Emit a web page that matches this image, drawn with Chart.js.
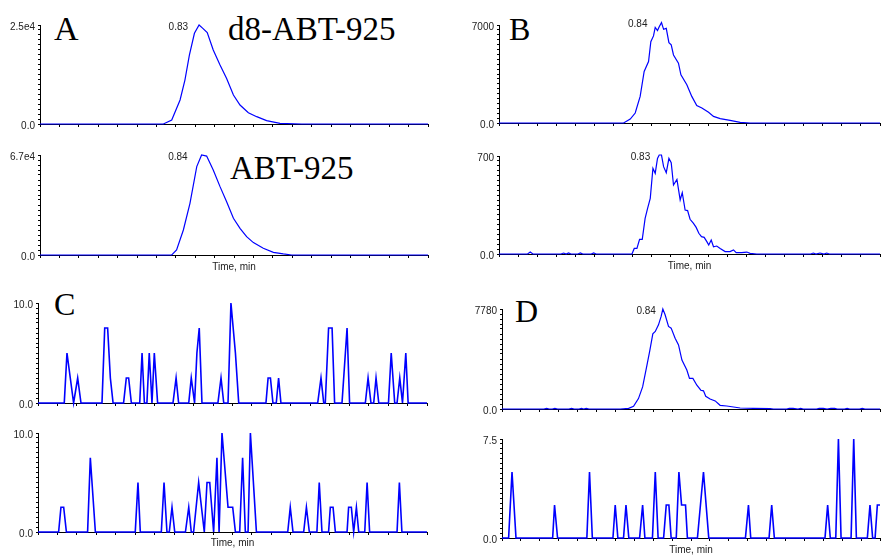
<!DOCTYPE html>
<html>
<head>
<meta charset="utf-8">
<script src="https://cdn.jsdelivr.net/npm/chart.js@4.4.1/dist/chart.umd.min.js"></script>
<style>
  body { margin: 0; background: #fff; overflow: hidden; }
  #wrap { position: relative; width: 881px; height: 556px; overflow: hidden; }
  #wrap canvas { position: absolute; }
  .big { position: absolute; font-family: "Liberation Serif", "Times New Roman", serif; line-height: 1; color: #000; white-space: nowrap; }
</style>
</head>
<body>
<div id="wrap">
  <div class="big" style="left:54px; top:12px; font-size:34px;">A</div>
  <div class="big" style="left:228px; top:13px; font-size:33px;">d8-ABT-925</div>
  <div class="big" style="left:230px; top:152px; font-size:33px;">ABT-925</div>
  <div class="big" style="left:509px; top:13px; font-size:32px;">B</div>
  <div class="big" style="left:54px; top:288px; font-size:32px;">C</div>
  <div class="big" style="left:515px; top:295px; font-size:32px;">D</div>
</div>
<script>
// time axis (min) is the same for every trace
var timeMin = 0;
var timeMax = 2.0;

// A, top trace: d8-ABT-925
var timesA1 = [0, 0.636, 0.679, 0.722, 0.747, 0.770, 0.796, 0.820, 0.838, 0.862, 0.893, 0.928, 0.962, 0.997, 1.031, 1.074, 1.117, 1.168, 1.237, 1.349, 2.0];
var valuesA1 = [0, 0, 1010, 6060, 11100, 17400, 22900, 25000, 24200, 23100, 18700, 14900, 11500, 7300, 4800, 2860, 1850, 840, 170, 0, 0];

// A, bottom trace: ABT-925
var timesA2 = [0, 0.679, 0.704, 0.739, 0.773, 0.808, 0.833, 0.859, 0.893, 0.928, 0.962, 0.997, 1.031, 1.065, 1.100, 1.151, 1.203, 1.254, 1.297, 2.0];
var valuesA2 = [0, 0, 3350, 16750, 34600, 59200, 67000, 66300, 57000, 45800, 35700, 24600, 17900, 12300, 8300, 4500, 1800, 700, 0, 0];

// B
var timesB1 = [0, 0.654, 0.689, 0.715, 0.741, 0.762, 0.785, 0.797, 0.811, 0.820, 0.832, 0.841, 0.853, 0.864, 0.878, 0.892, 0.904, 0.916, 0.942, 0.955, 0.986, 1.012, 1.038, 1.065, 1.100, 1.126, 1.161, 1.213, 1.266, 1.319, 2.0];
var valuesB1 = [0, 0, 285, 712, 1900, 3680, 4390, 5810, 6220, 6830, 6600, 6880, 7170, 6690, 6760, 5740, 5580, 4860, 4270, 3440, 2730, 1900, 1240, 1070, 760, 475, 310, 190, 50, 0, 0];

var timesB2 = [0, 0.150, 0.164, 0.178, 0.325, 0.339, 0.353, 0.365, 0.378, 0.414, 0.427, 0.440, 0.484, 0.497, 0.510,
  0.698, 0.710, 0.724, 0.738, 0.752, 0.767, 0.780, 0.794, 0.808, 0.820, 0.832, 0.841, 0.853, 0.864, 0.878, 0.892, 0.904,
  0.916, 0.934, 0.951, 0.962, 0.977, 0.990, 1.003, 1.021, 1.035, 1.049, 1.063, 1.077, 1.091, 1.101, 1.114, 1.126, 1.143,
  1.161, 1.187, 1.213, 1.231, 1.245, 1.274, 1.301, 1.318, 1.353, 1.636, 1.650, 1.664, 1.685, 1.706, 1.720, 1.734, 2.0];
var valuesB2 = [0, 0, 14, 0, 0, 7, 0, 7, 0, 0, 7, 0, 0, 7, 0,
  0, 40, 40, 105, 105, 255, 326, 398, 612, 576, 683, 707, 707, 624, 581, 683, 652,
  493, 533, 386, 438, 314, 310, 248, 219, 190, 148, 124, 119, 88, 64, 100, 52, 57,
  40, 17, 17, 29, 10, 10, 14, 5, 0, 0, 7, 0, 7, 0, 7, 0, 0];

// C
var timesC1 = [0, 0.135, 0.149, 0.166, 0.183, 0.204, 0.221, 0.329, 0.343, 0.358, 0.372, 0.386, 0.440, 0.454, 0.466, 0.480,
  0.523, 0.535, 0.547, 0.560, 0.572, 0.586, 0.598, 0.615, 0.694, 0.710, 0.723, 0.775, 0.788, 0.805, 0.817, 0.829, 0.843,
  0.925, 0.941, 0.955, 0.977, 0.992, 1.015, 1.032, 1.172, 1.183, 1.195, 1.208, 1.225, 1.237, 1.249,
  1.438, 1.455, 1.469, 1.477, 1.494, 1.512, 1.525, 1.563, 1.589, 1.602, 1.683, 1.697, 1.712, 1.726, 1.738, 1.752,
  1.802, 1.816, 1.834, 1.846, 1.860, 1.874, 1.891, 1.903, 2.0];
var valuesC1 = [0, 0, 5, 2.5, 0, 2.5, 0, 0, 7.5, 7.5, 2.5, 0, 0, 2.5, 2.5, 0,
  0, 5, 0, 0, 5, 0, 5, 0, 0, 2.5, 0, 0, 2.5, 0, 5, 7.5, 0,
  0, 2.5, 0, 0, 10, 5, 0, 0, 2.5, 2.5, 0, 0, 2.5, 0,
  0, 2.5, 0, 0, 7.5, 7.5, 0, 0, 7.5, 0, 0, 2.5, 0, 0, 2.5, 0,
  0, 5, 0, 0, 2.5, 0, 5, 0, 0];

var timesC2 = [0, 0.106, 0.118, 0.132, 0.146, 0.255, 0.269, 0.295, 0.500, 0.514, 0.526, 0.634, 0.648, 0.663, 0.675, 0.689, 0.703,
  0.758, 0.775, 0.788, 0.800, 0.826, 0.855, 0.869, 0.883, 0.903, 0.920, 0.931, 0.946, 0.977, 1.001, 1.015,
  1.037, 1.052, 1.066, 1.080, 1.092, 1.123, 1.284, 1.297, 1.311, 1.366, 1.380, 1.395, 1.434, 1.446, 1.460,
  1.494, 1.503, 1.517, 1.529, 1.589, 1.597, 1.611, 1.623, 1.637, 1.649, 1.680, 1.692, 1.705, 1.846, 1.858, 1.871, 2.0];
var valuesC2 = [0, 0, 2.5, 2.5, 0, 0, 7.5, 0, 0, 5, 0, 0, 5, 0, 0, 2.5, 0,
  0, 2.5, 0, 0, 5, 0, 5, 5, 0, 7.5, 0, 10, 2.5, 2.5, 0,
  0, 7.5, 0, 0, 10, 0, 0, 2.5, 0, 0, 2.5, 0, 0, 5, 0,
  0, 2.5, 2.5, 0, 0, 2.5, 2.5, 0, 2.5, 0, 0, 5, 0, 0, 5, 0, 0];

// D
var timesD1 = [0, 0.222, 0.236, 0.250, 0.266, 0.280, 0.294, 0.354, 0.368, 0.382, 0.408, 0.420, 0.432, 0.446, 0.460,
  0.626, 0.670, 0.696, 0.722, 0.744, 0.767, 0.781, 0.798, 0.811, 0.828, 0.842, 0.851, 0.863, 0.881, 0.895, 0.916,
  0.934, 0.952, 0.978, 0.992, 1.010, 1.031, 1.052, 1.066, 1.078, 1.101, 1.128, 1.154, 1.189, 1.225, 1.260, 1.330,
  1.419, 1.436, 1.506, 1.520, 1.540, 1.566, 1.580, 1.594, 1.664, 1.678, 1.700, 1.720, 1.740, 1.760, 1.774, 1.812,
  1.826, 1.840, 1.892, 1.906, 1.920, 2.0];
var valuesD1 = [0, 0, 52, 0, 0, 52, 0, 0, 52, 0, 0, 52, 0, 52, 0,
  0, 52, 209, 809, 1720, 3420, 4460, 5850, 6030, 6550, 7200, 7780, 7330, 6420, 6290, 5510,
  4990, 3810, 3030, 2380, 2380, 1850, 1460, 1410, 990, 780, 630, 287, 235, 157, 78, 52,
  26, 0, 0, 52, 52, 0, 52, 0, 0, 52, 52, 0, 52, 52, 0, 0,
  52, 0, 0, 52, 0, 0];

var timesD2 = [0, 0.035, 0.053, 0.074, 0.268, 0.278, 0.294, 0.449, 0.463, 0.478, 0.587, 0.599, 0.613, 0.643, 0.656, 0.671,
  0.728, 0.744, 0.756, 0.796, 0.811, 0.826, 0.855, 0.869, 0.883, 0.895, 0.922, 0.936, 0.950, 0.971, 0.981,
  1.034, 1.066, 1.094, 1.288, 1.304, 1.316, 1.413, 1.427, 1.441, 1.709, 1.723, 1.737, 1.766, 1.780, 1.794,
  1.847, 1.861, 1.875, 1.933, 1.947, 1.961, 1.974, 1.986, 2.0];
var valuesD2 = [0, 0, 5, 0, 0, 2.5, 0, 0, 5, 0, 0, 2.5, 0, 0, 2.5, 0,
  0, 2.5, 0, 0, 5, 0, 0, 2.5, 2.5, 0, 0, 5, 2.5, 2.5, 0,
  0, 5, 0, 0, 2.5, 0, 0, 2.5, 0, 0, 2.5, 0, 0, 7.5, 0,
  0, 7.5, 0, 0, 2.5, 0, 0, 2.5, 2.5];

// y axis: top label of each trace
var topLabels = ['2.5e4', '6.7e4', '7000', '700', '10.0', '10.0', '7780', '7.5'];
var topValues = [25000, 67000, 7000, 700, 10, 10, 7780, 7.5];
// retention time written beside the apex ('' = none)
var peakLabels = ['0.83', '0.84', '0.84', '0.83', '', '', '0.84', ''];

var panels = [
  { times: timesA1, values: valuesA1, left: 40, top: 25, right: 428, bottom: 124, title: false, lw: 1.2, dx: 11 },
  { times: timesA2, values: valuesA2, left: 40, top: 155, right: 428, bottom: 255, title: true, axisH: 18, lw: 1.2, dx: 14 },
  { times: timesB1, values: valuesB1, left: 499, top: 25, right: 880, bottom: 123, title: false, lw: 1.2, dx: 14 },
  { times: timesB2, values: valuesB2, left: 499, top: 156, right: 880, bottom: 254, title: true, axisH: 18, lw: 1.2, dx: 9 },
  { times: timesC1, values: valuesC1, left: 38, top: 303, right: 427, bottom: 403, title: false, lw: 1.6, dx: 11 },
  { times: timesC2, values: valuesC2, left: 38, top: 433, right: 427, bottom: 532, title: true, axisH: 17, lw: 1.6, dx: 11 },
  { times: timesD1, values: valuesD1, left: 502, top: 309, right: 880, bottom: 409, title: false, lw: 1.2, dx: 7 },
  { times: timesD2, values: valuesD2, left: 502, top: 439, right: 880, bottom: 538, title: true, axisH: 18, lw: 1.6, dx: 11 }
];

var smallFont = { family: 'Liberation Sans, Arial, sans-serif', size: 10 };
var textColor = '#222';

var peakLabelPlugin = {
    id: 'peakLabel',
    afterDatasetsDraw: function (chart) {
        var p = chart.options.plugins.peakLabel;
        if (!p || !p.text) return;
        var data = chart.data.datasets[0].data;
        var best = data[0];
        for (var i = 1; i < data.length; i++) {
            if (data[i].y > best.y) best = data[i];
        }
        var x = chart.scales.x.getPixelForValue(best.x);
        var y = chart.scales.y.getPixelForValue(best.y);
        var ctx = chart.ctx;
        ctx.save();
        ctx.font = '10px ' + smallFont.family;
        ctx.fillStyle = textColor;
        ctx.textAlign = 'right';
        ctx.textBaseline = 'middle';
        ctx.fillText(p.text, x - p.dx, y + 2);
        ctx.restore();
    }
};

var wrap = document.getElementById('wrap');

panels.forEach(function (spec, n) {
    var padTop = 10, padRight = 4, yW = 40;
    var axisH = spec.title ? spec.axisH : 12;
    var canvas = document.createElement('canvas');
    canvas.width = spec.right - spec.left + yW + padRight;
    canvas.height = spec.bottom - spec.top + padTop + axisH;
    canvas.style.left = (spec.left - yW) + 'px';
    canvas.style.top = (spec.top - padTop) + 'px';
    wrap.appendChild(canvas);

    var points = spec.times.map(function (t, i) { return { x: t, y: spec.values[i] }; });

    new Chart(canvas.getContext('2d'), {
        type: 'line',
        data: {
            datasets: [{
                data: points,
                borderColor: '#0000ff',
                borderWidth: spec.lw,
                pointRadius: 0,
                tension: 0,
                fill: false,
                clip: false
            }]
        },
        options: {
            responsive: false,
            animation: false,
            events: [],
            layout: { padding: { left: 0, top: padTop, right: padRight, bottom: 0 } },
            plugins: {
                legend: { display: false },
                tooltip: { enabled: false },
                peakLabel: { text: peakLabels[n], dx: spec.dx }
            },
            scales: {
                x: {
                    type: 'linear',
                    min: timeMin,
                    max: timeMax,
                    afterFit: function (s) { s.height = axisH; },
                    ticks: { display: false, stepSize: 0.1 },
                    grid: { drawOnChartArea: false, tickLength: 3, color: '#000', lineWidth: 1 },
                    border: { color: '#000', width: 1 },
                    title: {
                        display: spec.title,
                        text: 'Time, min',
                        font: smallFont,
                        color: textColor,
                        padding: 0
                    }
                },
                y: {
                    min: 0,
                    max: topValues[n],
                    afterFit: function (s) { s.width = yW; },
                    ticks: {
                        count: 21,
                        autoSkip: false,
                        font: smallFont,
                        color: textColor,
                        padding: 3,
                        labelOffset: 2,
                        callback: function (value, index, ticks) {
                            if (index === 0) return '0.0';
                            if (index === ticks.length - 1) return topLabels[n];
                            return '';
                        }
                    },
                    grid: { drawOnChartArea: false, tickLength: 2, color: '#000', lineWidth: 1 },
                    border: { color: '#000', width: 1 }
                }
            }
        },
        plugins: [peakLabelPlugin]
    });
});
</script>
</body>
</html>
